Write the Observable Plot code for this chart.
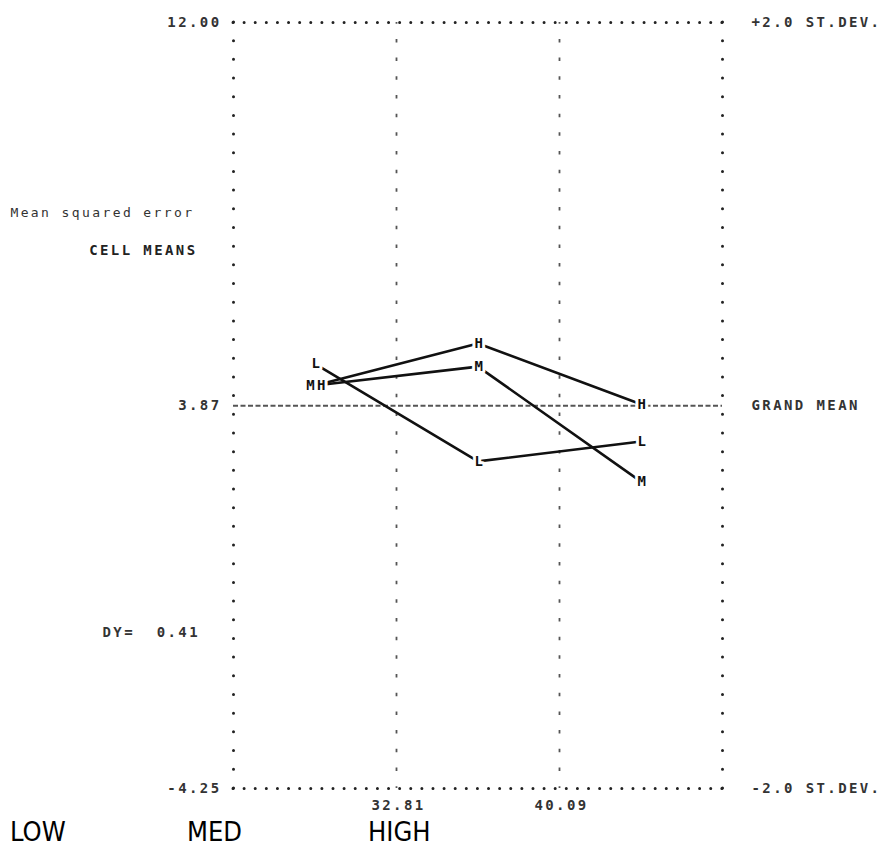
<!DOCTYPE html>
<html>
<head>
<meta charset="utf-8">
<script src="https://cdn.jsdelivr.net/npm/d3@7"></script>
<script src="https://cdn.jsdelivr.net/npm/@observablehq/plot@0.6"></script>
<style>
  html, body { margin: 0; padding: 0; background: #fff; }
  #chart svg text { letter-spacing: 2.4px; }
  #chart g[aria-label="msq"] text { letter-spacing: 1.8px; }
  #caption { height: 29px; font-family: "Liberation Sans Narrow", "Arial Narrow", "DejaVu Sans Condensed", sans-serif; font-size: 27px; line-height: 29px; color: #000; white-space: nowrap; }
  #caption span { display: inline-block; }
</style>
</head>
<body>
<div id="chart"></div>
<div id="caption"></div>
<script>
// ---- data ----
const levels = ["LOW", "MED", "HIGH"];
const levelX = [29.17, 36.45, 43.73];            // factor level positions on the x axis
const seriesNames = ["L", "M", "H"];
const seriesL = [4.76, 2.69, 3.11];
const seriesM = [4.30, 4.70, 2.26];
const seriesH = [4.30, 5.19, 3.90];
const grandMean = 3.87;
const yTicks = [12, 3.87, -4.25];
const yTickLabels = ["12.00", "3.87", "-4.25"];
const rightTickLabels = ["+2.0 ST.DEV.", "GRAND MEAN", "-2.0 ST.DEV."];
const gridX = [25.53, 32.81, 40.09, 47.37];
const xTicks = [32.81, 40.09];
const xTickLabels = ["32.81", "40.09"];
const notesY = [7.97, 7.16, -0.94];
const notesText = ["Mean squared error", "CELL MEANS", "DY=  0.41"];
const captionLabels = ["LOW", "MED", "HIGH"];

// ---- build tables ----
const valuesBySeries = {L: seriesL, M: seriesM, H: seriesH};
const points = [];
for (const s of seriesNames) {
  valuesBySeries[s].forEach((v, i) => points.push({series: s, level: levels[i], x: levelX[i], value: v}));
}
// point labels: series sharing the same cell value are printed together (e.g. "MH")
const labels = [];
levels.forEach((lv, i) => {
  const groups = d3.groups(points.filter(p => p.level === lv), p => p.value);
  for (const [v, ps] of groups) labels.push({x: levelX[i], value: v, text: ps.map(p => p.series).join("")});
});

const outer = [gridX[0], gridX[gridX.length - 1]];
const inner = gridX.slice(1, -1);
const ink = "#333";

const chart = Plot.plot({
  width: 888,
  height: 817,
  marginLeft: 233,
  marginRight: 166,
  marginTop: 22,
  marginBottom: 29,
  style: {fontFamily: "DejaVu Sans Mono", fontSize: "14px", fontWeight: "bold", color: ink, background: "#fff"},
  x: {domain: [gridX[0], gridX[gridX.length - 1]], axis: null},
  y: {domain: [-4.25, 12], axis: null},
  marks: [
    // vertical dotted lines
    Plot.ruleX(outer, {stroke: "#222", strokeWidth: 3, strokeLinecap: "round", strokeDasharray: "0,18.68"}),
    Plot.ruleX(inner, {stroke: "#555", strokeWidth: 1.8, strokeDasharray: "3.5,15.18", strokeDashoffset: 1.75}),
    // top / bottom dotted lines
    Plot.ruleY([12, -4.25], {stroke: "#222", strokeWidth: 3, strokeLinecap: "round", strokeDasharray: "0,11.11"}),
    // grand mean
    Plot.ruleY([grandMean], {stroke: "#555", strokeWidth: 1.8, strokeDasharray: "5,2.5"}),
    // cell means lines
    Plot.line(points, {x: "x", y: "value", z: "series", stroke: "#111", strokeWidth: 2.6}),
    Plot.text(labels, {x: "x", y: "value", text: "text", fill: "#111", fontWeight: "bold", fontSize: 14, stroke: "white", strokeWidth: 6, dx: 2}),
    // axes
    Plot.axisY(yTicks, {anchor: "left", label: null, tickSize: 0, tickPadding: 12, tickFormat: d => yTickLabels[yTicks.indexOf(d)], fill: ink}),
    Plot.axisY(yTicks, {anchor: "right", label: null, tickSize: 0, tickPadding: 29, tickFormat: d => rightTickLabels[yTicks.indexOf(d)], fill: ink}),
    Plot.axisX(xTicks, {anchor: "bottom", label: null, tickSize: 0, tickPadding: 12, tickFormat: d => xTickLabels[xTicks.indexOf(d)], fill: ink, dx: 2}),
    // left annotations
    Plot.text([notesText[0]], {y: [notesY[0]], text: d => d, frameAnchor: "left", textAnchor: "end", dx: -39, fontSize: 13, fontWeight: "normal", fill: "#333", ariaLabel: "msq"}),
    Plot.text([notesText[1]], {y: [notesY[1]], text: d => d, frameAnchor: "left", textAnchor: "end", dx: -36, fill: "#222"}),
    Plot.text([notesText[2]], {y: [notesY[2]], text: d => d, frameAnchor: "left", textAnchor: "start", dx: -131, fill: ink})
  ]
});
document.getElementById("chart").appendChild(chart);

// caption with factor level names
const cap = document.getElementById("caption");
const capWidths = [177, 181, 120];
captionLabels.forEach((t, i) => {
  const s = document.createElement("span");
  s.textContent = t;
  s.style.width = capWidths[i] + "px";
  if (i === 0) s.style.marginLeft = "10px";
  cap.appendChild(s);
});
</script>
</body>
</html>
